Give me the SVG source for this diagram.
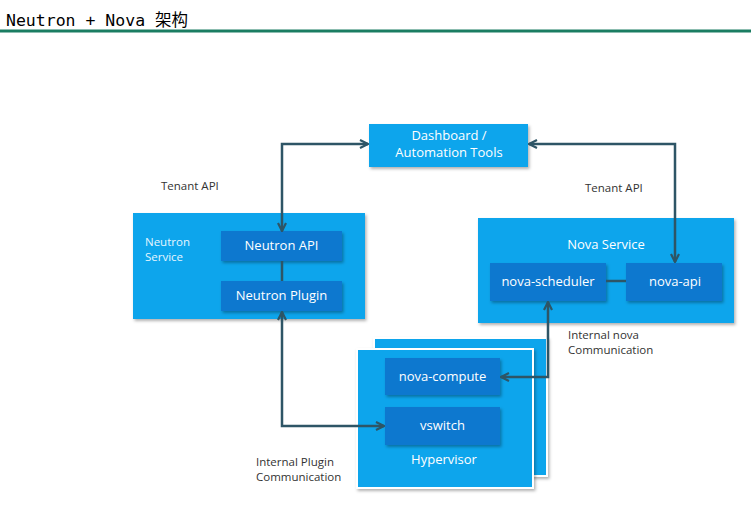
<svg xmlns="http://www.w3.org/2000/svg" width="751" height="508" viewBox="0 0 751 508">
<style>
.outer{fill:#0ea5ec}
.inner{fill:#0b78cf}
.wt{font-family:"Open Sans","Noto Sans",sans-serif;fill:#ffffff;font-size:13px;text-anchor:middle}
.wl{font-family:"Open Sans","Noto Sans",sans-serif;fill:#e6f6ff;font-size:11.5px}
.lbl{font-family:"Open Sans","Noto Sans",sans-serif;fill:#333333;font-size:11.5px}
.con{fill:none;stroke:#2e5566;stroke-width:2.5}
</style>
<defs>
<filter id="sh" x="-10%" y="-10%" width="130%" height="130%">
<feDropShadow dx="1.5" dy="2" stdDeviation="1.5" flood-color="#000" flood-opacity="0.3"/>
</filter>
<marker id="ah" viewBox="0 0 10 10" refX="9" refY="5" markerWidth="10" markerHeight="10" markerUnits="userSpaceOnUse" orient="auto-start-reverse">
<path d="M1,1 L9,5 L1,9" fill="none" stroke="#2e5566" stroke-width="2.2"/>
</marker>
</defs>
<rect width="751" height="508" fill="#ffffff"/>
<g id="title">
<text x="6" y="26" font-family="'DejaVu Sans Mono','Noto Sans CJK SC',monospace" font-size="16.5" fill="#000">Neutron + Nova 架构</text>
<rect x="0" y="29.5" width="751" height="3" fill="#1a7d62"/>
</g>
<g id="dashboard">
<rect class="outer" x="369" y="124" width="159" height="43" filter="url(#sh)"/>
<text class="wt" x="449" y="140">Dashboard /</text>
<text class="wt" x="449" y="157">Automation Tools</text>
</g>
<g id="neutron-service">
<rect class="outer" x="133" y="213" width="232" height="106" filter="url(#sh)"/>
<text class="wl" x="145" y="246">Neutron</text>
<text class="wl" x="145" y="261">Service</text>
</g>
<g id="neutron-api">
<rect class="inner" x="221" y="231" width="121" height="30" filter="url(#sh)"/>
<text class="wt" x="281.5" y="250">Neutron API</text>
</g>
<g id="neutron-plugin">
<rect class="inner" x="221" y="281" width="121" height="30" filter="url(#sh)"/>
<text class="wt" x="281.5" y="300">Neutron Plugin</text>
</g>
<g id="nova-service">
<rect class="outer" x="478" y="218" width="256" height="105" filter="url(#sh)"/>
<text class="wt" x="606" y="249" fill="#e6f6ff">Nova Service</text>
</g>
<g id="nova-scheduler">
<rect class="inner" x="490" y="263" width="116" height="38" filter="url(#sh)"/>
<text class="wt" x="548" y="286">nova-scheduler</text>
</g>
<g id="nova-api">
<rect class="inner" x="626" y="263" width="96" height="38" filter="url(#sh)"/>
<text class="wt" x="675" y="286">nova-api</text>
</g>
<g id="hypervisor">
<rect class="outer" x="374" y="338" width="173" height="138" stroke="#ffffff" stroke-width="2" filter="url(#sh)"/>
<rect class="outer" x="357" y="349" width="176" height="139" stroke="#ffffff" stroke-width="2" filter="url(#sh)"/>
<text class="wt" x="444" y="464" fill="#d8f2ff">Hypervisor</text>
</g>
<g id="nova-compute">
<rect class="inner" x="385" y="358" width="115" height="37" filter="url(#sh)"/>
<text class="wt" x="442.5" y="381">nova-compute</text>
</g>
<g id="vswitch">
<rect class="inner" x="385" y="407" width="115" height="38" filter="url(#sh)"/>
<text class="wt" x="442.5" y="430">vswitch</text>
</g>
<g id="connectors">
<path class="con" d="M282,231 L282,144 L368,144" marker-start="url(#ah)" marker-end="url(#ah)"/>
<path class="con" d="M529,144 L675,144 L675,262" marker-start="url(#ah)" marker-end="url(#ah)"/>
<path class="con" d="M282,261 L282,281"/>
<path class="con" d="M606,281 L626,281"/>
<path class="con" d="M282,312 L282,426 L384,426" marker-start="url(#ah)" marker-end="url(#ah)"/>
<path class="con" d="M548,302 L548,377 L501,377" marker-start="url(#ah)" marker-end="url(#ah)"/>
</g>
<g id="labels">
<text class="lbl" x="161" y="190">Tenant API</text>
<text class="lbl" x="585" y="192">Tenant API</text>
<text class="lbl" x="568" y="339">Internal nova</text>
<text class="lbl" x="568" y="354">Communication</text>
<text class="lbl" x="256" y="466">Internal Plugin</text>
<text class="lbl" x="256" y="481">Communication</text>
</g>
</svg>
